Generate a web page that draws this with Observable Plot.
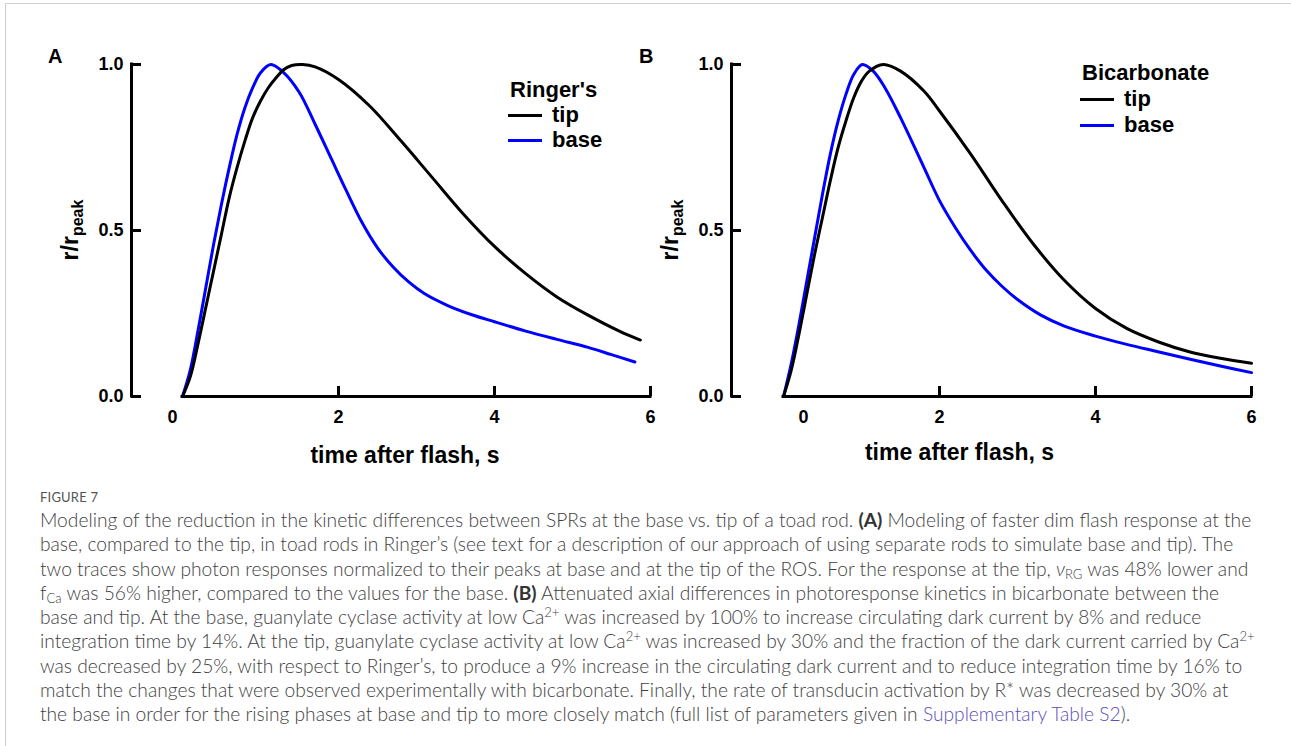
<!DOCTYPE html>
<html>
<head>
<meta charset="utf-8">
<script src="https://cdn.jsdelivr.net/npm/d3@7"></script>
<script src="https://cdn.jsdelivr.net/npm/@observablehq/plot@0.6"></script>
<style>
  html, body { margin: 0; padding: 0; background: #fff; }
  #page { position: relative; width: 1291px; height: 746px; overflow: hidden; background: #fff; }
  .frame-top { position: absolute; left: 5px; top: 3px; width: 1286px; height: 1px; background: #cfcfcf; }
  .frame-left { position: absolute; left: 5px; top: 3px; width: 1px; height: 743px; background: #cfcfcf; }
  .panel { position: absolute; top: 0; }
  .panel svg text { font-family: 'Liberation Sans', Arial, sans-serif; }
  .letter { position: absolute; font: bold 20px 'Liberation Sans', Arial, sans-serif; line-height: 20px; color: #000; }
  .legend { position: absolute; font: bold 22px 'Liberation Sans', Arial, sans-serif; color: #000; white-space: nowrap; }
  .legend .row { height: var(--lh); line-height: var(--lh); }
  .legend .ttl { padding-left: 2px; }
  .legend .sw { display: inline-block; width: 34px; height: 0; border-top: 3px solid; vertical-align: middle; margin-right: 10px; position: relative; top: -1px; }
  #caption { position: absolute; left: 40px; top: 489px; color: #3e3e3e; font-family: Lato, 'Open Sans', sans-serif; font-weight: 300; }
  #caption .fig { font-size: 13px; line-height: 16px; height: 19px; color: #555; letter-spacing: 0.2px; font-weight: 400; }
  #caption .cl { white-space: nowrap; width: max-content; line-height: 24.25px; height: 24.25px; }
  #caption .sub { font-size: 0.68em; vertical-align: -0.25em; line-height: 0; }
  #caption .sup { font-size: 0.68em; vertical-align: 0.55em; line-height: 0; }
  #caption b { font-weight: 700; color: #333; }
  #caption .link { color: #5b4fb8; }
</style>
</head>
<body>
<div id="page">
  <div class="frame-top"></div>
  <div class="frame-left"></div>
  <div id="panelA" class="panel" style="left:0px"></div>
  <div id="panelB" class="panel" style="left:600px"></div>
</div>
<script>
// ---------------- data ----------------
const yTicks = [0, 0.5, 1.0];
const xTickMarks = [2, 4, 6];
const xTickLabels = [0, 2, 4, 6];
const xAxisTitle = "time after flash, s";
const yTitleMain = "r/r";
const yTitleSub = "peak";
const seriesNames = ["tip", "base"];
const legendTitles = ["Ringer's", "Bicarbonate"];
const panelLetters = ["A", "B"];

// Panel A (Ringer's) — tip (black)
const tipA_t = [0, 0.1, 0.2, 0.3, 0.4, 0.5, 0.6, 0.7, 0.8, 0.9, 1.0, 1.1, 1.2, 1.3, 1.4, 1.54, 1.7, 2.0, 2.4, 2.8, 3.2, 3.6, 4.0, 4.4, 4.8, 5.2, 5.6, 5.87];
const tipA_r = [0, 0.06, 0.16, 0.27, 0.38, 0.49, 0.60, 0.69, 0.77, 0.84, 0.89, 0.93, 0.96, 0.985, 0.997, 1.0, 0.993, 0.955, 0.875, 0.77, 0.66, 0.55, 0.452, 0.37, 0.30, 0.245, 0.197, 0.17];
// Panel A — base (blue)
const baseA_t = [0, 0.1, 0.2, 0.3, 0.4, 0.5, 0.6, 0.7, 0.8, 0.9, 1.0, 1.13, 1.3, 1.5, 1.7, 1.9, 2.1, 2.3, 2.5, 2.7, 2.9, 3.1, 3.4, 3.7, 4.0, 4.4, 4.8, 5.2, 5.5, 5.8];
const baseA_r = [0, 0.08, 0.20, 0.33, 0.46, 0.58, 0.69, 0.79, 0.87, 0.93, 0.975, 1.0, 0.975, 0.915, 0.82, 0.72, 0.62, 0.525, 0.448, 0.39, 0.345, 0.31, 0.274, 0.247, 0.225, 0.197, 0.172, 0.148, 0.126, 0.104];
// Panel B (Bicarbonate) — tip (black)
const tipB_t = [0, 0.1, 0.2, 0.3, 0.4, 0.5, 0.6, 0.7, 0.8, 0.9, 1.0, 1.1, 1.28, 1.5, 1.8, 2.0, 2.4, 2.8, 3.2, 3.6, 4.0, 4.4, 4.8, 5.2, 5.6, 6.0];
const tipB_r = [0, 0.08, 0.19, 0.31, 0.43, 0.54, 0.65, 0.75, 0.83, 0.90, 0.95, 0.98, 1.0, 0.98, 0.92, 0.86, 0.73, 0.59, 0.46, 0.35, 0.265, 0.205, 0.165, 0.135, 0.115, 0.10];
// Panel B — base (blue)
const baseB_t = [0, 0.1, 0.2, 0.3, 0.4, 0.5, 0.6, 0.7, 0.8, 0.9, 1.01, 1.15, 1.3, 1.5, 1.8, 2.0, 2.2, 2.4, 2.6, 2.8, 3.0, 3.3, 3.6, 4.0, 4.4, 4.8, 5.2, 5.6, 6.0];
const baseB_r = [0, 0.10, 0.22, 0.35, 0.48, 0.61, 0.73, 0.83, 0.91, 0.97, 1.0, 0.98, 0.93, 0.84, 0.69, 0.59, 0.51, 0.44, 0.38, 0.332, 0.292, 0.245, 0.212, 0.182, 0.157, 0.135, 0.113, 0.092, 0.072];

const rows = (ts, rs) => ts.map((t, i) => ({t, r: rs[i]}));

// ---------------- drawing ----------------
const FONT = "Liberation Sans, Arial, sans-serif";

function drawPanel(cfg) {
  const W = cfg.width, H = 470;
  const mL = 131, mR = 10, mT = 64, mB = 74;
  const frameW = W - mL - mR, frameH = H - mT - mB;
  const xmin = cfg.xmin;
  const plot = Plot.plot({
    width: W,
    height: H,
    marginLeft: mL, marginRight: mR, marginTop: mT, marginBottom: mB,
    x: {domain: [xmin, 6], axis: null},
    y: {domain: [0, 1], axis: null},
    style: {background: "transparent", fontFamily: FONT, fontWeight: "bold", fontSize: "18px", color: "#000", overflow: "visible"},
    marks: [
      Plot.ruleX([xmin], {y1: 0, y2: 1, stroke: "#000", strokeWidth: 3, strokeLinecap: "square"}),
      Plot.ruleY([0], {x1: 0, x2: 6, stroke: "#000", strokeWidth: 3, strokeLinecap: "square"}),
      Plot.tickY(yTicks, {y: d => d, insetRight: frameW - 10, stroke: "#000", strokeWidth: 3}),
      Plot.tickX(xTickMarks, {x: d => d, insetTop: frameH - 10, stroke: "#000", strokeWidth: 3}),
      Plot.axisY(yTicks, {tickSize: 0, tickPadding: 8, tickFormat: d3.format(".1f"), label: null, fontSize: 18}),
      Plot.text(xTickLabels.filter(d => d !== 0), {x: d => d, text: d => String(d), frameAnchor: "bottom", lineAnchor: "middle", dy: 21, fontSize: 18}),
      Plot.text(xTickLabels.filter(d => d === 0), {x: d => d, text: d => String(d), frameAnchor: "bottom", lineAnchor: "middle", dy: 21, dx: cfg.zeroDx, fontSize: 18}),
      Plot.text([xAxisTitle], {text: d => d, frameAnchor: "bottom", lineAnchor: "middle", dx: cfg.titleDx, dy: cfg.titleDy, fontSize: 23}),
      Plot.line(cfg.base, {x: "t", y: "r", stroke: "#0000ff", strokeWidth: 3, curve: "catmull-rom"}),
      Plot.line(cfg.tip, {x: "t", y: "r", stroke: "#000", strokeWidth: 3, curve: "catmull-rom"})
    ]
  });
  // rotated y title with subscript
  const t = d3.select(plot).append("text")
    .attr("transform", `translate(${cfg.yTitleX},${cfg.yTitleY}) rotate(-90)`)
    .attr("text-anchor", "middle")
    .attr("font-family", FONT).attr("font-weight", "bold").attr("font-size", 23).attr("fill", "#000");
  t.append("tspan").text(yTitleMain);
  t.append("tspan").attr("font-size", 16).attr("dy", 5).text(yTitleSub);
  document.getElementById(cfg.target).appendChild(plot);
}

drawPanel({target: "panelA", width: 660, xmin: -0.654, zeroDx: -10, titleDx: 14, titleDy: 59,
  yTitleX: 78, yTitleY: 230, tip: rows(tipA_t, tipA_r), base: rows(baseA_t, baseA_r)});
drawPanel({target: "panelB", width: 661, xmin: -0.667, zeroDx: 20, titleDx: -32, titleDy: 56,
  yTitleX: 78, yTitleY: 230, tip: rows(tipB_t, tipB_r), base: rows(baseB_t, baseB_r)});

// letters and legends (HTML overlays)
const page = document.getElementById("page");
function addLetter(txt, left, top) {
  const d = document.createElement("div");
  d.className = "letter"; d.style.left = left + "px"; d.style.top = top + "px"; d.textContent = txt;
  page.appendChild(d);
}
addLetter(panelLetters[0], 48, 46);
addLetter(panelLetters[1], 639, 46);

function addLegend(title, left, top, lh) {
  const d = document.createElement("div");
  d.className = "legend"; d.style.left = left + "px"; d.style.top = top + "px";
  d.style.setProperty("--lh", lh + "px");
  const colors = ["#000", "#0000ff"];
  let html = `<div class="row ttl">${title}</div>`;
  seriesNames.forEach((s, i) => {
    html += `<div class="row"><span class="sw" style="border-color:${colors[i]}"></span>${s}</div>`;
  });
  d.innerHTML = html;
  page.appendChild(d);
}
addLegend(legendTitles[0], 508, 77, 25);
addLegend(legendTitles[1], 1080, 60, 26);

// caption
const captionLines = [
  'Modeling of the reduction in the kinetic differences between SPRs at the base vs. tip of a toad rod. <b>(A)</b> Modeling of faster dim flash response at the',
  'base, compared to the tip, in toad rods in Ringer’s (see text for a description of our approach of using separate rods to simulate base and tip). The',
  'two traces show photon responses normalized to their peaks at base and at the tip of the ROS. For the response at the tip, <i>ν</i><span class="sub">RG</span> was 48% lower and',
  'f<span class="sub">Ca</span> was 56% higher, compared to the values for the base. <b>(B)</b> Attenuated axial differences in photoresponse kinetics in bicarbonate between the',
  'base and tip. At the base, guanylate cyclase activity at low Ca<span class="sup">2+</span> was increased by 100% to increase circulating dark current by 8% and reduce',
  'integration time by 14%. At the tip, guanylate cyclase activity at low Ca<span class="sup">2+</span> was increased by 30% and the fraction of the dark current carried by Ca<span class="sup">2+</span>',
  'was decreased by 25%, with respect to Ringer’s, to produce a 9% increase in the circulating dark current and to reduce integration time by 16% to',
  'match the changes that were observed experimentally with bicarbonate. Finally, the rate of transducin activation by R* was decreased by 30% at',
  'the base in order for the rising phases at base and tip to more closely match (full list of parameters given in <span class="link">Supplementary Table S2</span>).'
];
const cap = document.createElement("div");
cap.id = "caption";
cap.innerHTML = `<div class="fig">FIGURE 7</div>` + captionLines.map(l => `<div class="cl">${l}</div>`).join("");
page.appendChild(cap);
// fit caption size so that the first line spans the same width as in the figure
cap.style.fontSize = "17px";
const w1 = cap.querySelector(".cl").getBoundingClientRect().width;
cap.style.fontSize = (17 * 1212 / w1).toFixed(2) + "px";
cap.querySelector(".fig").style.fontSize = "13px";
</script>
</body>
</html>
